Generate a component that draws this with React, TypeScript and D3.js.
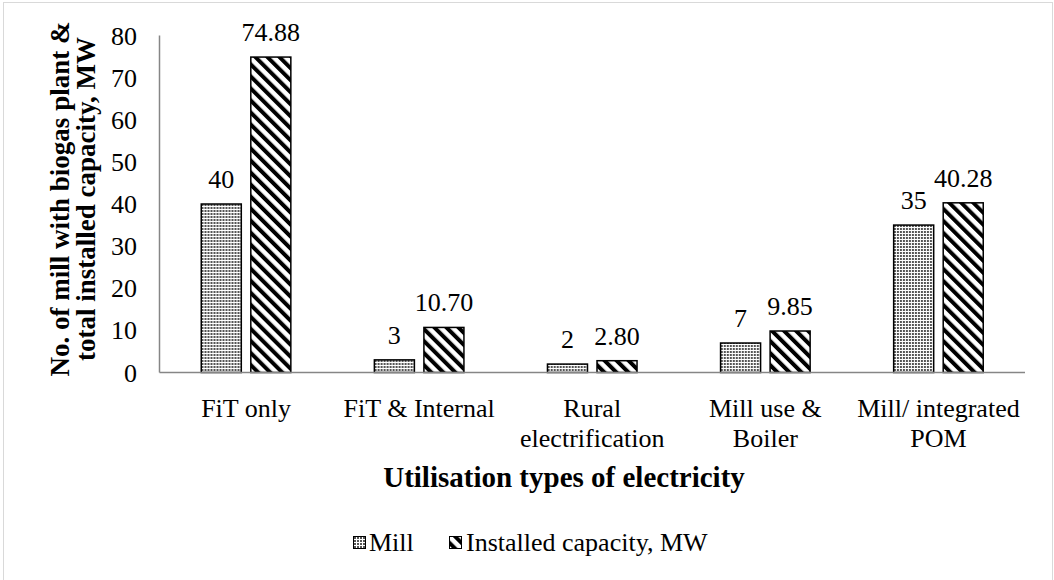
import React from "react";
import * as d3 from "d3";

const categoryLabels: string[][] = [
  ["FiT only"],
  ["FiT & Internal"],
  ["Rural", "electrification"],
  ["Mill use &", "Boiler"],
  ["Mill/ integrated", "POM"],
];
const categories = categoryLabels.map((l) => l.join(" "));
const millValues = [40, 3, 2, 7, 35];
const capacityValues = [74.88, 10.7, 2.8, 9.85, 40.28];
const seriesNames = ["Mill", "Installed capacity, MW"];
const yTicks = [0, 10, 20, 30, 40, 50, 60, 70, 80];

const W = 1054;
const H = 580;
const FS = 26;
const FONT = "Liberation Serif, Times New Roman, serif";

function SText({ x, y, anchor = "middle", bold = false, children, size = FS }: any) {
  return (
    <text
      x={x}
      y={y}
      textAnchor={anchor}
      fontFamily={FONT}
      fontSize={size}
      fontWeight={bold ? "bold" : "normal"}
      fill="#000"
    >
      {children}
    </text>
  );
}

export default function App() {
  const x0 = d3.scaleBand<string>().domain(categories).range([159.5, 1025]).padding(0);
  const bw = x0.bandwidth();
  const x1 = d3
    .scaleBand<string>()
    .domain(seriesNames)
    .range([0, bw])
    .paddingInner(0.192)
    .paddingOuter(0.843);
  const y = d3.scaleLinear().domain([0, 80]).range([372.5, 35.5]);

  const series = [
    { name: seriesNames[0], values: millValues, fill: "url(#dots)", fmt: (v: number) => d3.format("d")(v) },
    { name: seriesNames[1], values: capacityValues, fill: "url(#stripes)", fmt: (v: number) => d3.format(".2f")(v) },
  ];

  return (
    <svg
      width={W}
      height={H}
      style={{ position: "absolute", left: 0, top: 0, background: "#fff" }}
    >
      <defs>
        <pattern id="dots" patternUnits="userSpaceOnUse" width={3} height={3}>
          <rect width={3} height={3} fill="#fff" />
          <rect x={0} y={0} width={2} height={2} fill="#555" />
        </pattern>
        <pattern
          id="stripes"
          patternUnits="userSpaceOnUse"
          width={8.5}
          height={8.5}
          patternTransform="rotate(-45)"
        >
          <rect width={8.5} height={8.5} fill="#fff" />
          <rect x={0} y={0} width={4} height={8.5} fill="#000" />
        </pattern>
      </defs>
      <rect width={W} height={H} fill="#fff" />
      <rect x={3.5} y={2.5} width={1049} height={600} fill="none" stroke="#d9d9d9" strokeWidth={1} />

      {/* y tick labels */}
      {yTicks.map((t) => (
        <SText key={t} x={137} y={y(t) + 9} anchor="end">
          {t}
        </SText>
      ))}

      {/* bars */}
      {categories.map((c, i) => (
        <g key={c} transform={`translate(${x0(c)},0)`}>
          {series.map((s) => {
            const v = s.values[i];
            const bx = x1(s.name)!;
            const bwid = x1.bandwidth();
            return (
              <g key={s.name}>
                <rect
                  x={bx}
                  y={y(v)}
                  width={bwid}
                  height={y(0) - y(v)}
                  fill={s.fill}
                  stroke="#000"
                  strokeWidth={1.5}
                />
                <SText x={bx + bwid / 2} y={y(v) - 16}>
                  {s.fmt(v)}
                </SText>
              </g>
            );
          })}
        </g>
      ))}

      {/* axes */}
      <line x1={159.5} x2={159.5} y1={y(80)} y2={y(0)} stroke="#868686" strokeWidth={1.5} />
      <line x1={159.5} x2={1025} y1={y(0)} y2={y(0)} stroke="#868686" strokeWidth={1.5} />

      {/* category labels */}
      {categoryLabels.map((lines, i) => (
        <g key={i}>
          {lines.map((ln, j) => (
            <SText key={j} x={x0(categories[i])! + bw / 2} y={417 + j * 29.5}>
              {ln}
            </SText>
          ))}
        </g>
      ))}

      {/* x title */}
      <SText x={564} y={487} bold size={29}>
        Utilisation types of electricity
      </SText>

      {/* y title */}
      <g transform="translate(69,199) rotate(-90)">
        <text textAnchor="middle" fontFamily={FONT} fontSize={27} fontWeight="bold" x={0} y={0}>
          No. of mill with biogas plant &amp;
        </text>
        <text textAnchor="middle" fontFamily={FONT} fontSize={27} fontWeight="bold" x={0} y={26}>
          total installed capacity, MW
        </text>
      </g>

      {/* legend */}
      <rect x={353.5} y={536.5} width={12} height={12} fill="url(#dots)" stroke="#000" strokeWidth={1} />
      <SText x={369} y={551} anchor="start">
        {seriesNames[0]}
      </SText>
      <rect x={449.5} y={536.5} width={12} height={12} fill="url(#stripes)" stroke="#000" strokeWidth={1} />
      <SText x={466} y={551} anchor="start">
        {seriesNames[1]}
      </SText>
    </svg>
  );
}
